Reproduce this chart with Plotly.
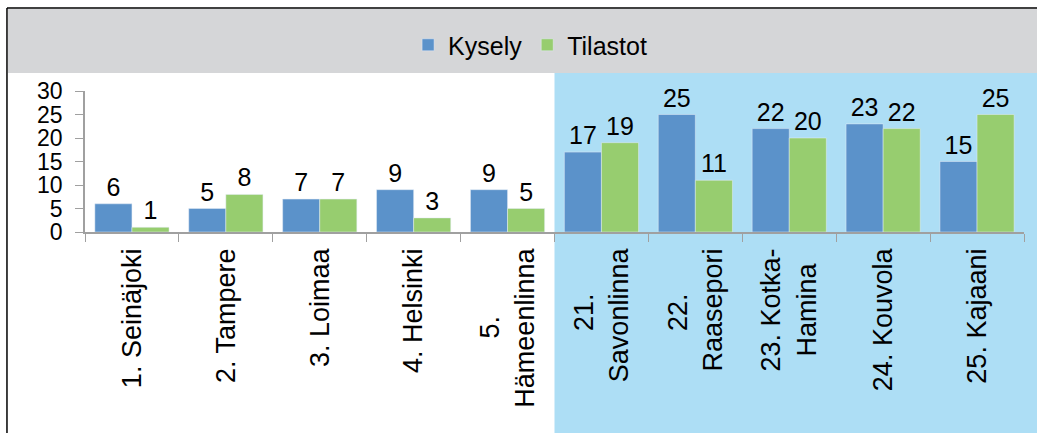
import plotly.graph_objects as go

NB = "\u00a0"
categories = ["1. Seinäjoki", "2. Tampere", "3. Loimaa", "4. Helsinki", "5. Hämeenlinna",
              "21. Savonlinna", "22. Raasepori", "23. Kotka-Hamina", "24. Kouvola", "25. Kajaani"]
tick_labels = ["1. Seinäjoki", "2. Tampere", "3. Loimaa", "4. Helsinki",
               "5." + NB * 9 + "<br>Hämeenlinna",
               "21." + NB * 6 + "<br>Savonlinna",
               "22." + NB * 6 + "<br>Raasepori",
               "23. Kotka-<br>Hamina" + NB * 2,
               "24. Kouvola", "25. Kajaani"]
kysely = [6, 5, 7, 9, 9, 17, 25, 22, 23, 15]
tilastot = [1, 8, 7, 3, 5, 19, 11, 20, 22, 25]
series_names = ["Kysely", "Tilastot"]
y_ticks = [0, 5, 10, 15, 20, 25, 30]

FONT = "Liberation Sans, Arial, sans-serif"
BLUE = "#5B92CA"
GREEN = "#97CD6F"

fig = go.Figure()
fig.add_trace(go.Bar(x=categories, y=kysely, name=series_names[0], marker_color=BLUE,
                     text=kysely, textposition="outside", cliponaxis=False,
                     textfont=dict(size=25, color="black", family=FONT)))
fig.add_trace(go.Bar(x=categories, y=tilastot, name=series_names[1], marker_color=GREEN,
                     text=tilastot, textposition="outside", cliponaxis=False,
                     textfont=dict(size=25, color="black", family=FONT)))

shapes = [
    # gray header band
    dict(type="rect", xref="paper", yref="paper", x0=-0.082, x1=1.02, y0=1.128, y1=1.582,
         fillcolor="#D5D6D8", line_width=0, layer="below"),
    # light blue highlight region
    dict(type="rect", xref="paper", yref="paper", x0=0.5, x1=1.02, y0=-1.5, y1=1.128,
         fillcolor="#ADDEF5", line_width=0, layer="below"),
    # outer border (top and left)
    dict(type="line", xref="paper", yref="paper", x0=-0.0831, x1=1.02, y0=1.588, y1=1.588,
         line=dict(color="black", width=1.5)),
    dict(type="line", xref="paper", yref="paper", x0=-0.0831, x1=-0.0831, y0=-1.5, y1=1.588,
         line=dict(color="black", width=1.5)),
]

fig.update_layout(
    width=1037, height=433,
    margin=dict(l=85, r=13, t=91, b=201),
    paper_bgcolor="white", plot_bgcolor="rgba(0,0,0,0)",
    font=dict(family=FONT, color="black"),
    barmode="group", bargap=0.21, bargroupgap=0,
    shapes=shapes,
    showlegend=True,
    legend=dict(orientation="h", x=0.474, xanchor="center", y=1.326, yanchor="middle",
                bgcolor="rgba(0,0,0,0)", font=dict(size=25, family=FONT),
                itemwidth=30, tracegroupgap=0),
)
fig.update_xaxes(showline=True, linecolor="#A0A0A0", linewidth=1.5,
                 ticks="outside", tickson="boundaries", ticklen=8, tickcolor="#A0A0A0",
                 tickangle=-90, tickfont=dict(size=27, family=FONT, color="black"),
                 tickvals=categories, ticktext=tick_labels, ticklabelstandoff=4,
                 showgrid=False)
fig.update_yaxes(range=[0, 30], tickvals=y_ticks, showline=True, linecolor="#A0A0A0",
                 linewidth=1.5, ticks="outside", ticklen=8, tickcolor="#A0A0A0",
                 tickfont=dict(size=23, family=FONT, color="black"), showgrid=False,
                 zeroline=False, ticklabelstandoff=8)

fig.write_html("out.html", config={"displayModeBar": False},
               post_script="document.body.style.margin='0';document.body.style.overflow='hidden';")
